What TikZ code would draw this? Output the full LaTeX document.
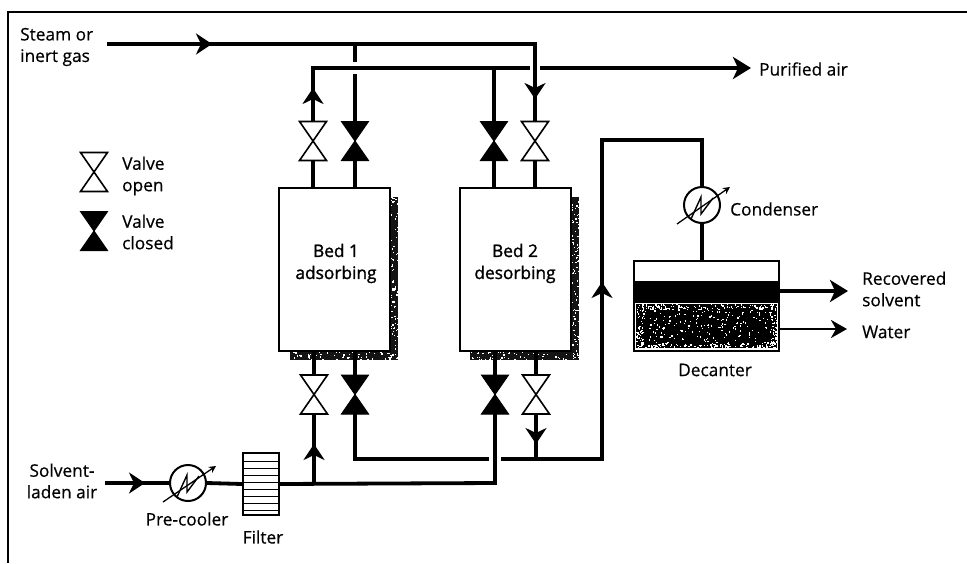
\documentclass[tikz,border=0pt]{standalone}
\usepackage{fontspec}
\setmainfont[RawFeature={embolden=0.5}]{Open Sans}
\newfontfamily\bedfont[RawFeature={embolden=1.4}]{Open Sans}
\usetikzlibrary{arrows.meta,decorations.markings,calc}
\tikzset{
  pipe/.style={line width=3.8pt,line cap=butt,line join=miter},
  thinpipe/.style={line width=2.8pt},
  flowmark/.style={postaction={decorate},decoration={markings,mark=at position #1 with {\arrow{Stealth[length=16pt,width=21pt,inset=5pt]}}}},
  midtip/.style={-{Stealth[length=16pt,width=21pt,inset=5pt]}},
  endtip/.style={-{Stealth[length=18pt,width=22pt,inset=5pt]}},
  valvebox/.style={inner sep=0pt,outer sep=0pt,minimum width=27pt,minimum height=39pt},
  vopen/.style={line width=1.6pt,fill=white,line join=miter},
  vclosed/.style={line width=1pt,fill=black},
  bedbox/.style={draw,line width=2pt,fill=white,inner sep=0pt,minimum width=111pt,minimum height=163pt,align=center},
  exch/.style={draw,circle,line width=2pt,fill=white,minimum size=36pt,inner sep=0pt},
  lab/.style={inner sep=0pt,font=\fontsize{17.3}{21.5}\selectfont,align=left},
  labc/.style={lab,align=center},
  thin line/.style={line width=1.3pt}
}
\newcommand{\valveopen}[3]{\node[valvebox] (#1) at (#2,#3) {};
  \draw[vopen] (#1.north west)--(#1.north east)--(#1.south west)--(#1.south east)--cycle;}
\newcommand{\valveshut}[3]{\node[valvebox] (#1) at (#2,#3) {};
  \draw[vclosed] (#1.north west)--(#1.north east)--(#1.south west)--(#1.south east)--cycle;}
\newcommand{\exchsym}[1]{%
  \draw[line width=1.4pt] ($(#1.center)+(-11,14)$)--($(#1.center)+(-1,-8)$)--($(#1.center)+(-1,9)$)--($(#1.center)+(11,-7)$);}
\newcommand{\specks}[6]{% x0 y0 w h count colour
  \foreach \i in {1,...,#5}{
    \pgfmathsetmacro{\px}{#1+rnd*#3}
    \pgfmathsetmacro{\py}{#2+rnd*#4}
    \fill[#6] (\px,\py) rectangle +(1.3,1.3);
  }}
\begin{document}
\begin{tikzpicture}[x=1pt,y=-1pt]
\pgfmathsetseed{4242}
\useasboundingbox (0,0) rectangle (967,563);
\fill[white] (0,0) rectangle (967,563);
\draw[line width=2pt] (8,563)--(8,12)--(967,12);

% shadows of the beds
\fill[black!92] (390,197) rectangle (398,360);
\fill[black!92] (290,351) rectangle (398,360);
\fill[black!92] (571,197) rectangle (579,360);
\fill[black!92] (470,351) rectangle (579,360);
\specks{390}{197}{8}{163}{90}{white}
\specks{290}{351}{108}{9}{70}{white}
\specks{571}{197}{8}{163}{90}{white}
\specks{470}{351}{109}{9}{70}{white}

% beds
\node[bedbox] (bedone) at (334.5,269.5) {};
\node[bedbox] (bedtwo) at (515,269.5) {};
\node[labc,font=\bedfont\fontsize{17.3}{22}\selectfont] (bedonetext) at (336,263.5) {Bed 1\\adsorbing};
\node[labc,font=\bedfont\fontsize{17.3}{22}\selectfont] (bedtwotext) at (515,263.5) {Bed 2\\desorbing};

% valves
\valveopen{vaa}{313}{141}
\valveshut{vab}{355}{141}
\valveshut{vac}{494}{141}
\valveopen{vad}{535}{141}
\valveopen{vba}{314}{394.5}
\valveshut{vbb}{355}{394.5}
\valveshut{vbc}{495}{394.5}
\valveopen{vbd}{536}{394.5}

% key
\valveopen{keyopen}{94}{172}
\valveshut{keyshut}{94}{231}
\node[lab,anchor=west] (keyopentext) at (122,176) {Valve\\open};
\node[lab,anchor=west] (keyshuttext) at (122,232) {Valve\\closed};

% equipment
\node[exch] (precool) at (188,483) {};
\node[exch] (condens) at (702,205) {};
\node[draw,line width=2pt,fill=white,inner sep=0pt,minimum width=36pt,minimum height=62pt] (filter) at (261,484) {};
\foreach \yy in {461,468,475,482,489,496,503,510}
  \draw[line width=1pt] (243,\yy)--(279,\yy);
\node[draw,line width=2pt,fill=white,inner sep=0pt,minimum width=145pt,minimum height=90pt] (decanter) at (706.5,305.5) {};
\fill (634,281) rectangle (779,303);
\fill[black] (636,304) rectangle (777,348);
\specks{636}{304}{141}{44}{260}{white}
\specks{636}{304}{141}{5}{90}{white}
\specks{636}{343}{141}{5}{90}{white}
\specks{770}{304}{7}{44}{50}{white}
\specks{636}{304}{7}{44}{40}{white}

% coordinates
\coordinate (steamstart) at (107,44);
\coordinate (steamcorner) at (vad.north |- steamstart);
\coordinate (steamtap) at (vab.north |- steamstart);
\coordinate (gapa) at (355,62);
\coordinate (gapb) at (355,74);
\coordinate (purecorner) at (vaa.north |- 0,68);
\coordinate (puregapl) at (530,68);
\coordinate (puregapr) at (540,68);
\coordinate (pureend) at (751,68);
\coordinate (airstart) at (105,483);
\coordinate (bottomjoin) at (314,483);
\coordinate (bottomend) at (vbc.south |- 0,483);
\coordinate (collecta) at (vbb.south |- 0,459);
\coordinate (collectgapl) at (489,459);
\coordinate (collectgapr) at (501,459);
\coordinate (collectb) at (602,459);
\coordinate (collectc) at (602,140);
\coordinate (collectd) at (702,140);
\coordinate (recl) at (779,291);
\coordinate (recr) at (848,291);
\coordinate (watl) at (779,329);
\coordinate (watr) at (847,329);

% pipes
\draw[pipe,flowmark=105pt] (steamstart)--(steamcorner)--(vad.north);
\draw[pipe,midtip] (steamcorner)--(535,99);
\draw[pipe] (steamtap)--(gapa);
\draw[pipe] (gapb)--(vab.north);
\draw[pipe] (vaa.north)--(purecorner)--(puregapl);
\draw[pipe,midtip] (vaa.north)--(313,88);
\draw[pipe,endtip] (puregapr)--(pureend);
\draw[pipe] (vac.north)--(vac.north |- purecorner);
\draw[pipe] (vaa.south)--(vaa.south |- bedone.north);
\draw[pipe] (vab.south)--(vab.south |- bedone.north);
\draw[pipe] (vac.south)--(vac.south |- bedtwo.north);
\draw[pipe] (vad.south)--(vad.south |- bedtwo.north);
\draw[pipe] (vba.north)--(vba.north |- bedone.south);
\draw[pipe] (vbb.north)--(vbb.north |- bedone.south);
\draw[pipe] (vbc.north)--(vbc.north |- bedtwo.south);
\draw[pipe] (vbd.north)--(vbd.north |- bedtwo.south);
\draw[pipe,flowmark=40pt] (airstart)--(precool.west);
\draw[pipe] (precool.east)--(filter.west);
\draw[pipe] (filter.east)--(bottomend)--(vbc.south);
\draw[pipe,midtip] (bottomjoin)--(vba.south |- 0,444);
\draw[pipe] (vba.south)--(bottomjoin);
\draw[pipe] (vbb.south)--(collecta)--(collectgapl);
\draw[pipe,flowmark=177pt] (collectb)--(collectc);
\draw[pipe] (collectgapr)--(collectb)--(collectc)--(collectd)--(condens.north);
\draw[pipe] (condens.south)--(decanter.north -| condens.south);
\draw[pipe,midtip] (vbd.south)--(536,444);
\draw[pipe] (vbd.south)--(vbd.south |- collecta);
\draw[pipe,endtip] (recl)--(recr);
\draw[thinpipe,-{Stealth[length=16pt,width=18pt,inset=5pt]}] (watl)--(watr);

% exchanger symbols
\exchsym{precool}
\exchsym{condens}
\draw[thin line,-{Stealth[length=7pt,width=7pt]}] ($(precool.center)+(-25,19)$)--($(precool.center)+(28,-17)$);
\draw[thin line,-{Stealth[length=7pt,width=7pt]}] ($(condens.center)+(-25,19)$)--($(condens.center)+(28,-18)$);

% labels
\node[lab,anchor=west] (steamlab) at (20,47) {Steam or\\inert gas};
\node[lab,anchor=west] (purelab) at (759,69) {Purified air};
\node[lab,anchor=west] (condlab) at (730,209) {Condenser};
\node[lab,anchor=west] (reclab) at (862,289) {Recovered\\solvent};
\node[lab,anchor=west] (watlab) at (862,332) {Water};
\node[labc] (declab) at (715,370) {Decanter};
\node[labc] (airlab) at (62,481) {Solvent-\\laden air};
\node[labc] (prelab) at (187,519) {Pre-cooler};
\node[labc] (fillab) at (263,537) {Filter};
\end{tikzpicture}
\end{document}
